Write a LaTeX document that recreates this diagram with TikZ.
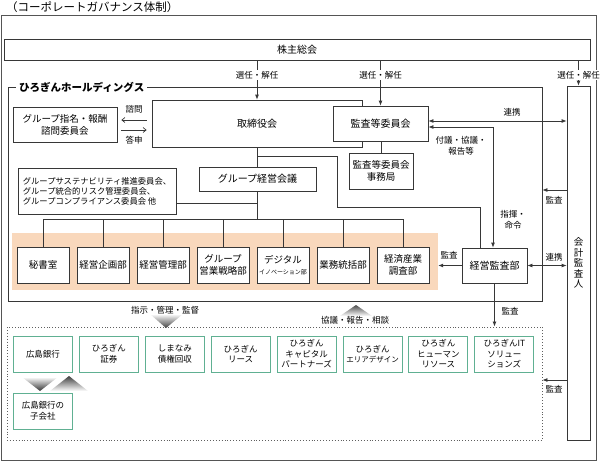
\documentclass[tikz,border=0pt]{standalone}
\usepackage{fontspec}
\setmainfont{Noto Sans CJK JP}
\usetikzlibrary{arrows.meta,positioning}

\definecolor{ink}{RGB}{55,55,55}
\definecolor{peach}{RGB}{249,216,188}
\definecolor{mint}{RGB}{96,176,146}

\tikzset{
  box/.style={draw=ink, line width=0.8pt, fill=white, align=center, inner sep=1pt},
  dept/.style={box, minimum width=52, minimum height=36, font=\fontsize{9.5}{11.5}\selectfont},
  comp/.style={draw=mint, line width=1pt, fill=white, minimum width=59, minimum height=36,
    align=center, inner sep=1pt, font=\fontsize{8.5}{10.5}\selectfont},
  lbl/.style={fill=white, inner sep=1pt, align=center, font=\fontsize{8.5}{10.5}\selectfont},
  plainlbl/.style={inner sep=1pt, align=center, font=\fontsize{8.5}{10.5}\selectfont},
  wire/.style={draw=ink, line width=0.8pt},
  arr/.style={wire, -{Latex[length=5pt,width=4pt]}},
  dbl/.style={wire, {Latex[length=5pt,width=4pt]}-{Latex[length=5pt,width=4pt]}},
  barb/.style={draw=ink, line width=0.7pt, -{Straight Barb[length=3pt,width=5pt]}},
}

\begin{document}
\begin{tikzpicture}[x=1pt, y=-1pt]
  \useasboundingbox (0,0) rectangle (603,461);

  % title and outer frame
  \node[anchor=west, inner sep=0pt, font=\fontsize{11.5}{13}\selectfont] (title) at (6,7) {（コーポレートガバナンス体制）};
  \draw[ink!85, line width=1pt] (1,15) rectangle (596,460);

  % levels used by connectors
  \coordinate (y120) at (0,120);
  \coordinate (y130) at (0,130);
  \coordinate (y121) at (0,121);
  \coordinate (y127) at (0,127);
  \coordinate (y156) at (0,156);
  \coordinate (y190) at (0,190);
  \coordinate (y203) at (0,203);
  \coordinate (bus) at (0,219);
  \coordinate (y380) at (0,380);
  \coordinate (x480) at (480,0);
  \coordinate (x493) at (493,0);
  \coordinate (turn) at (337,207);

  \node[box, minimum width=586, minimum height=21, font=\fontsize{10}{12}\selectfont] (sh) at (297,49.5) {株主総会};

  % holding company
  \node[draw=ink, line width=0.8pt, minimum width=534, minimum height=214] (hd) at (275,194) {};
  \node[anchor=west, fill=white, inner xsep=3pt, inner ysep=1pt, font=\bfseries\fontsize{10.5}{12}\selectfont] (hdname) at (16,87) {ひろぎんホールディングス};

  \node[box, minimum width=23, minimum height=354, font=\fontsize{9.5}{10.5}\selectfont] (kaikei) at (578.5,263) {会\\計\\監\\査\\人};

  \node[box, minimum width=104, minimum height=35, font=\fontsize{9.5}{12}\selectfont] (nom) at (65,124.5) {グループ指名・報酬\\諮問委員会};
  \node[box, minimum width=210, minimum height=47, font=\fontsize{10}{12}\selectfont] (board) at (257,123.5) {取締役会};
  \node[box, minimum width=95, minimum height=35, font=\fontsize{10}{12}\selectfont] (audcom) at (380.5,123.5) {監査等委員会};
  \node[box, minimum width=64, minimum height=36, font=\fontsize{9.5}{11.5}\selectfont] (office) at (381,171) {監査等委員会\\事務局};
  \node[box, minimum width=117, minimum height=24, font=\fontsize{10}{12}\selectfont] (grpmgmt) at (257.5,179) {グループ経営会議};
  \node[box, minimum width=158, minimum height=46, align=left, font=\fontsize{8.3}{10}\selectfont] (committees) at (97,191)
    {グループサステナビリティ推進委員会、\\グループ統合的リスク管理委員会、\\グループコンプライアンス委員会 他};

  % departments
  \node[fill=peach, minimum width=426, minimum height=57] (band) at (225,261.5) {};
  \foreach \i/\txt in {1/秘書室, 2/経営企画部, 3/経営管理部, 4/{グループ\\営業戦略部},
      5/{デジタル\\{\fontsize{6}{7}\selectfont イノベーション部}}, 6/業務統括部, 7/{経済産業\\調査部}}
    \node[dept] (dep\i) at ({-17+60*\i},265) {\txt};
  \node[box, minimum width=65, minimum height=35, font=\fontsize{10}{12}\selectfont] (audit) at (494.5,265.5) {経営監査部};

  % group companies
  \node[draw=ink!80, dotted, line width=0.9pt, minimum width=535, minimum height=113] (grp) at (274.5,383.5) {};
  \foreach \i/\txt in {1/広島銀行, 2/{ひろぎん\\証券}, 3/{しまなみ\\債権回収}, 4/{ひろぎん\\リース},
      5/{ひろぎん\\キャピタル\\パートナーズ}, 6/{ひろぎん\\{\fontsize{7.5}{10.5}\selectfont エリアデザイン}},
      7/{ひろぎん\\ヒューマン\\リソース}, 8/{ひろぎんIT\\ソリュー\\ションズ}}
    \node[comp] (co\i) at ({-22.9+65.9*\i},354) {\txt};
  \node[comp] (child) at (43,411) {広島銀行の\\子会社};

  % chevrons
  \shade[top color=white, bottom color=black!75] (150,314) -- (183,314) -- (166,328) -- cycle;
  \shade[top color=black!70, bottom color=white] (340,316) -- (372,316) -- (356,305) -- cycle;
  \shade[top color=white, bottom color=black!80] (22,377) -- (58,377) -- (40,391) -- cycle;
  \shade[top color=black!75, bottom color=white] (50,391) -- (88,391) -- (69,376) -- cycle;
  \node[plainlbl] (shiji) at (165,310) {指示・管理・監督};
  \node[plainlbl] (kyogi) at (355,320) {協議・報告・相談};

  % connectors
  \draw[arr] (sh.south -| board.north) -- (board.north) node[lbl, pos=0.38] (sel1) {選任・解任};
  \draw[arr] (sh.south -| audcom.north) -- (audcom.north) node[lbl, pos=0.33] (sel2) {選任・解任};
  \draw[arr] (sh.south -| kaikei.north) -- (kaikei.north) node[lbl, pos=0.58] (sel3) {選任・解任};

  \draw[barb, shorten >=4pt, shorten <=5pt] (board.west |- y120) -- (nom.east |- y120);
  \draw[barb, shorten >=5pt, shorten <=4pt] (nom.east |- y130) -- (board.west |- y130);
  \node[plainlbl] (shimon) at (134,109) {諮問};
  \node[plainlbl] (toshin) at (134,140) {答申};

  \draw[wire] (audcom.south -| office.north) -- (office.north);
  \draw[wire] (board.south -| grpmgmt.north) -- (grpmgmt.north);
  \draw[wire] (grpmgmt.north |- y156) -| (turn) -| (x480 |- audit.north);
  \draw[wire] (committees.east |- y203) -- (grpmgmt.south |- y203);
  \draw[wire] (grpmgmt.south) -- (grpmgmt.south |- bus);
  \draw[wire] (dep1.north |- bus) -- (dep7.north |- bus);
  \foreach \i in {1,...,7}
    \draw[wire] (dep\i.north |- bus) -- (dep\i.north);

  \draw[dbl] (audcom.east |- y121) -- (kaikei.west |- y121);
  \node[plainlbl] (renkei1) at (512,112) {連携};
  \draw[dbl] (audcom.east |- y127) -| (x493 |- audit.north);
  \node[lbl] (fugi) at (461,146) {付議・協議・\\報告等};
  \node[lbl] (shiki) at (513,220) {指揮・\\命令};

  \draw[arr] (kaikei.west |- y190) -- (hd.east |- y190);
  \node[plainlbl] (kansa1) at (554,200) {監査};
  \draw[arr] (audit.west) -- (band.east |- audit.west);
  \node[plainlbl] (kansa2) at (449,255) {監査};
  \draw[dbl] (audit.east) -- (audit.east -| kaikei.west);
  \node[plainlbl] (renkei2) at (554,257) {連携};
  \draw[arr] (audit.south) -- (audit.south |- grp.north);
  \node[plainlbl] (kansa3) at (510,311) {監査};
  \draw[arr] (kaikei.west |- y380) -- (grp.east |- y380);
  \node[plainlbl] (kansa4) at (554,389) {監査};
\end{tikzpicture}
\end{document}
